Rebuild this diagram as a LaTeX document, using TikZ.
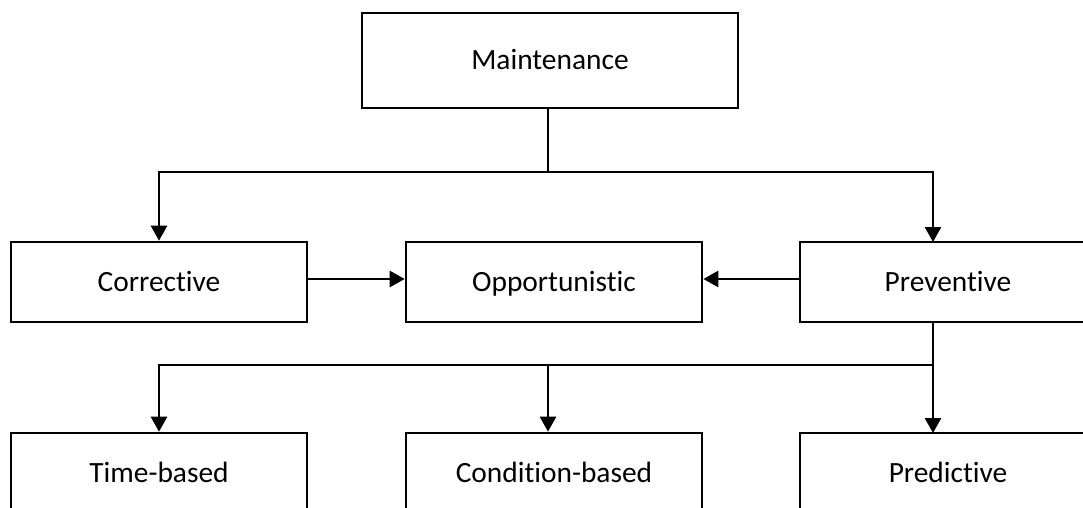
\documentclass[tikz,border=0pt]{standalone}
\usepackage{fontspec}
\setmainfont[Ligatures={NoCommon}]{Carlito}
\usetikzlibrary{arrows.meta}
\begin{document}
\begin{tikzpicture}[x=1pt,y=-1pt,
  box/.style={draw=black,line width=2.6pt,minimum width=296pt,minimum height=80pt,inner sep=0pt,text height=19pt,text depth=0pt,font=\fontsize{29.4}{35}\selectfont},
  conn/.style={draw=black,line width=2.6pt},
  arr/.style={conn,-{Triangle[length=15pt,width=16pt]}}]
\useasboundingbox (0,0) rectangle (1083,508);
\fill[white] (0,0) rectangle (1083,508);
\begin{scope}
\clip (0,0) rectangle (1083,508);
\node[box,minimum width=376pt,minimum height=95pt] (M) at (550,60.5) {Maintenance};
\node[box] (C) at (159,282) {Corrective};
\node[box] (O) at (554,282) {Opportunistic};
\node[box] (P) at (948,282) {Preventive};
\node[box] (T) at (159,473) {Time-based};
\node[box] (D) at (554,473) {Condition-based};
\node[box] (R) at (948,473) {Predictive};
\coordinate (j1) at (548,172);
\coordinate (ptop) at (933,242);
\coordinate (pbot) at (933,322);
\coordinate (j2) at (933,365);
\coordinate (rtop) at (933,433);
\draw[conn] (M.south -| j1) -- (j1);
\draw[arr] (j1) -| (C.north);
\draw[arr] (j1) -| (ptop);
\draw[arr] ([yshift=3pt]C.east) -- ([yshift=3pt]O.west);
\draw[arr] ([yshift=3pt]P.west) -- ([yshift=3pt]O.east);
\draw[arr] (pbot) -- (rtop);
\draw[arr] (j2) -| (T.north);
\draw[arr] (j2 -| j1) -- (D.north -| j1);
\end{scope}
\end{tikzpicture}
\end{document}
